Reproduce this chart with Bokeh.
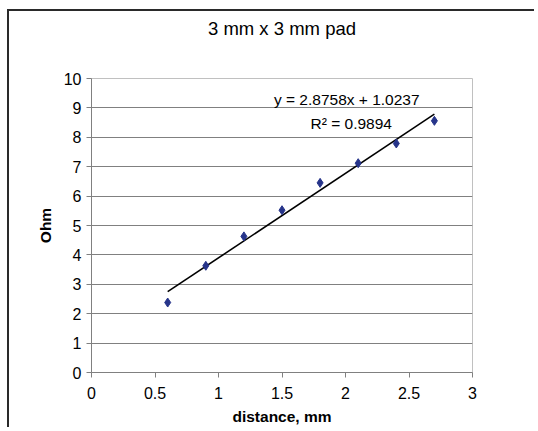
from bokeh.plotting import figure
from bokeh.models import Range1d, FixedTicker, Label, LinearAxis
from bokeh.embed import file_html
from bokeh.resources import INLINE

# data
distance = [0.6, 0.9, 1.2, 1.5, 1.8, 2.1, 2.4, 2.7]
ohm = [2.38, 3.63, 4.63, 5.52, 6.45, 7.12, 7.79, 8.56]

# trendline shown on the chart
slope = 2.8758
intercept = 1.0237
r_squared = 0.9894

title_text = "3 mm x 3 mm pad"
x_ticks = [0, 0.5, 1, 1.5, 2, 2.5, 3]
x_tick_labels = ["0", "0.5", "1", "1.5", "2", "2.5", "3"]
y_ticks = [0, 1, 2, 3, 4, 5, 6, 7, 8, 9, 10]
y_grid = [1, 2, 3, 4, 5, 6, 7, 8, 9]

FONT = "Liberation Sans"

p = figure(width=527, height=418, output_backend="svg", toolbar_location=None,
           x_range=Range1d(0, 3), y_range=Range1d(0, 10),
           min_border_left=82, min_border_right=64, min_border_top=67,
           min_border_bottom=57)
p.styles = {"margin-left": "7px", "margin-top": "9px",
            "border-left": "2px solid #2a2a2a", "border-top": "2px solid #2a2a2a"}

# chart title carried by a tick-less axis above the frame
title_axis = LinearAxis(ticker=FixedTicker(ticks=[]), axis_line_color=None,
                        major_tick_line_color=None, minor_tick_line_color=None,
                        major_tick_out=0, major_tick_in=0, major_label_standoff=0,
                        axis_label=title_text, axis_label_standoff=40,
                        axis_label_text_font=FONT, axis_label_text_font_size="18.5px",
                        axis_label_text_font_style="normal",
                        axis_label_text_color="black")
p.add_layout(title_axis, "above")

p.background_fill_color = "white"
p.border_fill_color = "white"
p.outline_line_color = "#c0c0c0"
p.outline_line_width = 1

p.xgrid.grid_line_color = None
p.ygrid.ticker = FixedTicker(ticks=y_grid)
p.ygrid.grid_line_color = "#808080"
p.ygrid.grid_line_width = 1

xaxis = p.below[0]
xaxis.ticker = FixedTicker(ticks=x_ticks)
xaxis.major_label_overrides = {t: l for t, l in zip(x_ticks, x_tick_labels)}
yaxis = p.left[0]
yaxis.ticker = FixedTicker(ticks=y_ticks)
yaxis.major_label_overrides = {t: str(t) for t in y_ticks}

for ax in (xaxis, yaxis):
    ax.axis_line_color = "#808080"
    ax.major_tick_line_color = "#808080"
    ax.major_tick_out = 5
    ax.major_tick_in = 0
    ax.minor_tick_line_color = None
    ax.major_label_text_font = FONT
    ax.major_label_text_font_size = "16px"
    ax.major_label_text_color = "black"
    ax.axis_label_text_font = FONT
    ax.axis_label_text_font_size = "15.5px"
    ax.axis_label_text_font_style = "bold"
    ax.axis_label_text_color = "black"

xaxis.axis_label = "distance, mm"
xaxis.major_label_standoff = 9
xaxis.axis_label_standoff = 6
yaxis.axis_label = "Ohm"
yaxis.major_label_standoff = 5
yaxis.axis_label_standoff = 7

# trendline
trend_x = [distance[0], distance[-1]]
trend_y = [slope * x + intercept for x in trend_x]
p.line(trend_x, trend_y, line_color="black", line_width=1.6)

p.scatter(distance, ohm, marker="diamond", size=9, fill_color="#26348a",
          line_color="#26348a")

p.add_layout(Label(x=2.01, y=9.3, text=f"y = {slope}x + {intercept}",
                   text_align="center", text_baseline="middle",
                   text_font=FONT, text_font_size="15.5px", text_color="black"))
p.add_layout(Label(x=2.045, y=8.47, text=f"R\u00b2 = {r_squared}",
                   text_align="center", text_baseline="middle",
                   text_font=FONT, text_font_size="15.5px", text_color="black"))

open("out.html", "w").write(file_html(p, INLINE))
